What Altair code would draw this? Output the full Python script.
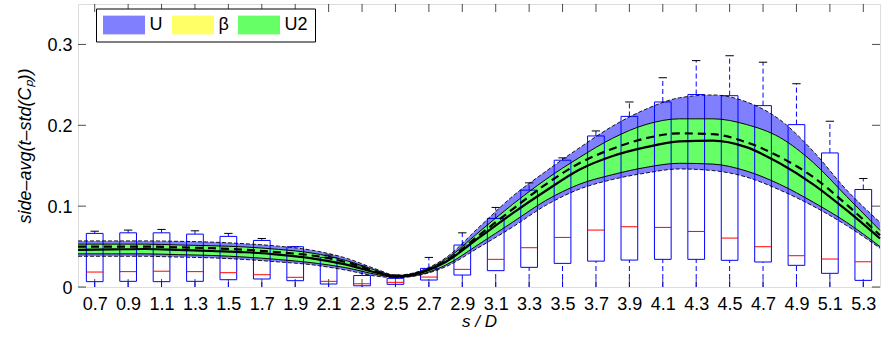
import altair as alt
import pandas as pd

# ---------------- data ----------------
s_curve = [0.6, 0.8, 1.0, 1.2, 1.4, 1.6, 1.8, 2.0, 2.2, 2.4, 2.5, 2.6, 2.8, 3.0,
           3.2, 3.4, 3.6, 3.8, 4.0, 4.2, 4.4, 4.6, 4.8, 5.0, 5.2, 5.4]
u_upper = [0.057, 0.057, 0.057, 0.0565, 0.0555, 0.0535, 0.0505, 0.0455, 0.036, 0.021, 0.0145, 0.017, 0.036, 0.074,
           0.112, 0.143, 0.172, 0.199, 0.220, 0.234, 0.2375, 0.229, 0.207, 0.168, 0.120, 0.080]
u_lower = [0.038, 0.038, 0.038, 0.037, 0.036, 0.034, 0.031, 0.0275, 0.021, 0.013, 0.0115, 0.013, 0.025, 0.049,
           0.074, 0.101, 0.121, 0.133, 0.141, 0.146, 0.144, 0.136, 0.120, 0.100, 0.076, 0.048]
u2_upper = [0.053, 0.053, 0.053, 0.052, 0.051, 0.0495, 0.0465, 0.042, 0.033, 0.0195, 0.014, 0.016, 0.034, 0.068,
            0.102, 0.133, 0.160, 0.184, 0.201, 0.208, 0.208, 0.201, 0.185, 0.154, 0.112, 0.070]
u2_lower = [0.041, 0.041, 0.041, 0.040, 0.039, 0.037, 0.034, 0.030, 0.024, 0.015, 0.012, 0.0135, 0.027, 0.053,
            0.080, 0.107, 0.127, 0.139, 0.148, 0.153, 0.152, 0.1435, 0.127, 0.105, 0.080, 0.050]
mean_dashed = [0.050, 0.050, 0.050, 0.049, 0.048, 0.046, 0.043, 0.039, 0.031, 0.018, 0.013, 0.0155, 0.032, 0.064,
               0.096, 0.127, 0.153, 0.171, 0.184, 0.190, 0.189, 0.179, 0.161, 0.136, 0.102, 0.064]
mean_solid = [0.046, 0.0465, 0.047, 0.046, 0.0445, 0.043, 0.040, 0.0355, 0.028, 0.017, 0.013, 0.015, 0.031, 0.061,
              0.091, 0.119, 0.145, 0.162, 0.173, 0.180, 0.181, 0.173, 0.153, 0.127, 0.095, 0.060]

box_s = [0.7, 0.9, 1.1, 1.3, 1.5, 1.7, 1.9, 2.1, 2.3, 2.5, 2.7, 2.9,
         3.1, 3.3, 3.5, 3.7, 3.9, 4.1, 4.3, 4.5, 4.7, 4.9, 5.1, 5.3]
whisker_hi = [0.069, 0.0704, 0.0712, 0.0695, 0.0663, 0.060, 0.0498, 0.0395, 0.026, 0.015, 0.0366, 0.067,
              0.0984, 0.1288, 0.1597, 0.193, 0.2288, 0.2588, 0.280, 0.286, 0.278, 0.2514, 0.205, 0.1342]
q3 = [0.0663, 0.067, 0.067, 0.0654, 0.0626, 0.0576, 0.0498, 0.0366, 0.0142, 0.0107, 0.023, 0.0519,
      0.0848, 0.1198, 0.1568, 0.1868, 0.211, 0.2288, 0.238, 0.2366, 0.2243, 0.2008, 0.1658, 0.1206]
median = [0.0185, 0.019, 0.0195, 0.019, 0.0177, 0.0152, 0.012, 0.007, 0.004, 0.0058, 0.0123, 0.0218,
          0.0342, 0.0486, 0.0613, 0.0704, 0.0745, 0.0737, 0.0687, 0.0605, 0.0498, 0.0387, 0.0346, 0.0312]
q1 = [0.0066, 0.007, 0.0066, 0.007, 0.009, 0.0099, 0.0078, 0.0037, 0.0015, 0.0033, 0.0086, 0.0148,
      0.0202, 0.0243, 0.0292, 0.032, 0.0333, 0.0342, 0.0342, 0.033, 0.0309, 0.0268, 0.0169, 0.0082]
whisker_lo = [0.0, 0.0, 0.0, 0.0, 0.0, 0.0, 0.0, 0.0, 0.0, 0.0, 0.0, 0.0,
              0.0, 0.0, 0.0, 0.0, 0.0, 0.0, 0.0, 0.0, 0.0, 0.0, 0.0, 0.0]

x_ticks = box_s
y_ticks = [0, 0.1, 0.2, 0.3]
band_names = ["U", "β", "U2"]
band_colors = ["#8080ff", "#ffff66", "#66ff66"]

FONT = "Liberation Sans"
W, H = 802, 283

curve = pd.DataFrame({"s": s_curve, "u_up": u_upper, "u_lo": u_lower, "g_up": u2_upper,
                      "g_lo": u2_lower, "m_dash": mean_dashed, "m_solid": mean_solid})
boxes = pd.DataFrame({"s": box_s, "lo": whisker_lo, "q1": q1, "med": median, "q3": q3, "hi": whisker_hi})
xt = pd.DataFrame({"v": x_ticks})
yt = pd.DataFrame({"v": y_ticks})

xscale = alt.Scale(domain=[0.6, 5.4], nice=False, zero=False)
yscale = alt.Scale(domain=[0, 0.35], nice=False, zero=False)

x_axis = alt.Axis(values=x_ticks, format=".1f", title="s / D", titleFontStyle="italic",
                  titleFontWeight="normal", titleFontSize=17, titleFont=FONT, titleColor="black",
                  labelFont=FONT, labelFontSize=18, labelColor="black", ticks=False, domain=False,
                  grid=False, labelPadding=22, labelBaseline="alphabetic", labelFlush=False,
                  labelOverlap=False, titleY=39, titleBaseline="alphabetic")
y_axis = alt.Axis(values=y_ticks, labelExpr="datum.value == 0 ? '0' : format(datum.value, '.1f')",
                  title="side–avg(t–std(Cₚ))", titleFontStyle="italic", titleFontWeight="normal",
                  titleFontSize=18, titleFont=FONT, titleColor="black", titleX=-48, titleY=H / 2,
                  titleAngle=270, titleAlign="center", titleBaseline="alphabetic",
                  labelFont=FONT, labelFontSize=18, labelColor="black", ticks=False, domain=False,
                  grid=False, labelPadding=6, labelBaseline="middle", labelFlush=False,
                  labelOffset=1.5)


def X(field):
    return alt.X(field + ":Q", scale=xscale, axis=x_axis, title="s / D")


def Y(field):
    return alt.Y(field + ":Q", scale=yscale, axis=y_axis, title="side–avg(t–std(Cₚ))")


legend = alt.Legend(orient="none", legendX=18, legendY=4.5, direction="horizontal", title=None,
                    symbolType="M-1,-0.46H1V0.46H-1Z", symbolSize=1764, symbolStrokeWidth=0,
                    symbolOpacity=1, clipHeight=19, labelFont=FONT, labelFontSize=18,
                    labelColor="black", labelOffset=4.5, columnPadding=9, padding=7,
                    strokeColor="black", fillColor="white", cornerRadius=0)
color_scale = alt.Scale(domain=band_names, range=band_colors)

# ---------------- inner ticks (drawn first, under data) ----------------
tick_left = alt.Chart(yt).mark_tick(orient="horizontal", size=8, thickness=1, color="black").encode(
    y=Y("v"), x=alt.value(4))
tick_right = alt.Chart(yt).mark_tick(orient="horizontal", size=8, thickness=1, color="black").encode(
    y=Y("v"), x=alt.value(W - 4))
tick_top = alt.Chart(xt).mark_tick(orient="vertical", size=8, thickness=1, color="black").encode(
    x=X("v"), y=alt.value(4))
tick_bottom = alt.Chart(xt).mark_tick(orient="vertical", size=8, thickness=1, color="black").encode(
    x=X("v"), y=alt.value(H - 4))


# ---------------- bands ----------------
def band(name, lo, hi):
    return alt.Chart(curve).transform_calculate(series="'" + name + "'").mark_area(
        opacity=1, interpolate="monotone").encode(
        x=X("s"), y=Y(lo), y2=alt.Y2(hi + ":Q"),
        color=alt.Color("series:N", scale=color_scale, legend=legend))


band_u = band("U", "u_lo", "u_up")
band_b = band("β", "g_lo", "g_up")
band_u2 = band("U2", "g_lo", "g_up")

# ---------------- box plots ----------------
bbase = alt.Chart(boxes).transform_calculate(
    x0="datum.s - 0.05", x1="datum.s + 0.05", c0="datum.s - 0.025", c1="datum.s + 0.025")

whisk_up = bbase.mark_rule(color="#0000ff", strokeWidth=1, strokeDash=[5, 3]).encode(
    x=X("s"), y=Y("q3"), y2="hi:Q")
whisk_lo = bbase.mark_rule(color="#0000ff", strokeWidth=1, strokeDash=[5, 3]).encode(
    x=X("s"), y=Y("lo"), y2="q1:Q")
caps = bbase.mark_rule(color="black", strokeWidth=1).encode(
    x=X("c0"), x2="c1:Q", y=Y("hi"))
rects = bbase.mark_rect(fillOpacity=0, stroke="#0000ff", strokeWidth=1).encode(
    x=X("x0"), x2="x1:Q", y=Y("q1"), y2="q3:Q")
meds = bbase.mark_rule(color="#ff0000", strokeWidth=1).encode(
    x=X("x0"), x2="x1:Q", y=Y("med"))


# ---------------- black curves ----------------
def curve_line(field, width, dash=None):
    kw = dict(color="black", strokeWidth=width, interpolate="monotone")
    if dash:
        kw["strokeDash"] = dash
    return alt.Chart(curve).mark_line(**kw).encode(x=X("s"), y=Y(field))


lines = [
    curve_line("u_up", 0.9, [4, 2]),
    curve_line("u_lo", 0.9, [4, 2]),
    curve_line("g_up", 1.0),
    curve_line("g_lo", 1.0),
    curve_line("m_dash", 2.2, [8, 5]),
    curve_line("m_solid", 2.2),
]

chart = alt.layer(
    tick_left, tick_right, tick_top, tick_bottom,
    band_u, band_b, band_u2,
    whisk_up, whisk_lo, caps, rects, meds,
    *lines
).properties(
    width=W, height=H,
    autosize=alt.AutoSizeParams(type="none"),
    padding={"left": 78, "top": 4, "right": 3, "bottom": 50},
).configure_view(stroke="black", strokeWidth=1).configure(background="white")

chart.save("out.html", embed_options={"renderer": "svg", "actions": False})
